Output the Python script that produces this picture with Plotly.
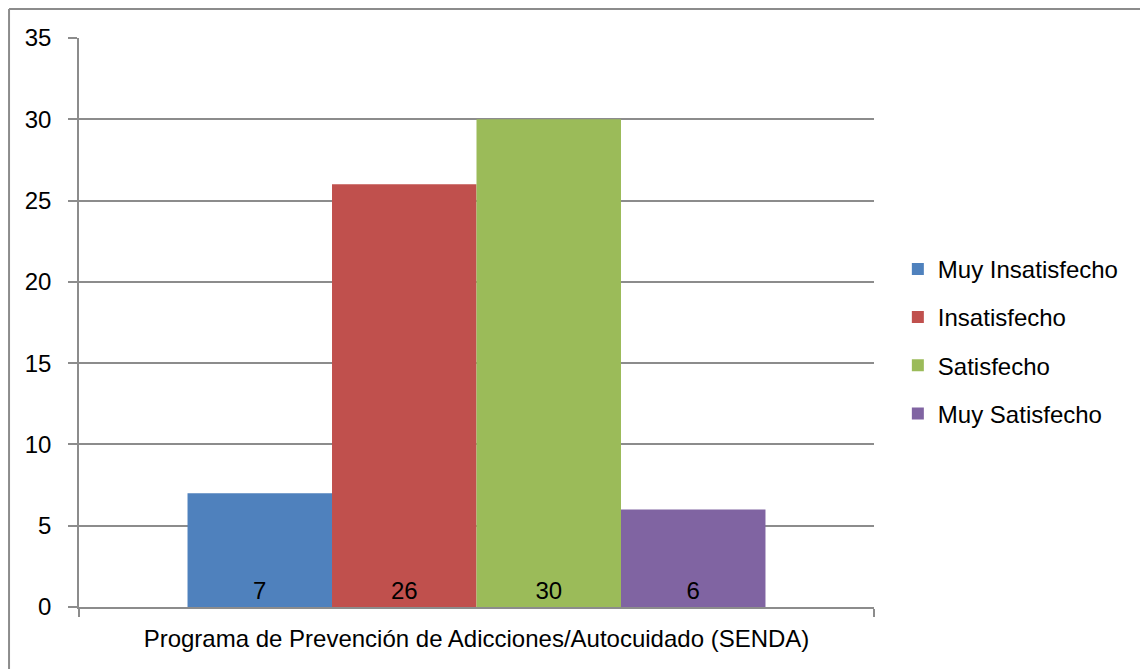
import plotly.graph_objects as go

category = ["Programa de Prevención de Adicciones/Autocuidado (SENDA)"]
series_names = ["Muy Insatisfecho", "Insatisfecho", "Satisfecho", "Muy Satisfecho"]
series_values = [7, 26, 30, 6]
series_colors = ["#4F81BD", "#C0504D", "#9BBB59", "#8064A2"]

FONT = "Liberation Sans"
GRID = "#8C8C8C"
FS = 24

fig = go.Figure()
for i, (name, val, col) in enumerate(zip(series_names, series_values, series_colors)):
    fig.add_trace(go.Bar(
        x=category, y=[val], name=name,
        marker=dict(color=col, line=dict(width=0)),
        text=[str(val)], textposition="inside", insidetextanchor="start",
        textfont=dict(family=FONT, size=FS, color="black"),
        legendgroup=name,
    ))

fig.update_layout(
    width=1148, height=669,
    margin=dict(l=71, r=282, t=30, b=70),
    paper_bgcolor="white", plot_bgcolor="white",
    barmode="group", bargap=0.273, bargroupgap=0,
    font=dict(family=FONT, size=FS, color="black"),
    showlegend=True,
    legend=dict(x=1.03, y=0.633, xanchor="left", yanchor="top",
                font=dict(family=FONT, size=FS), tracegroupgap=14,
                traceorder="grouped", bgcolor="rgba(0,0,0,0)"),
    uniformtext=dict(mode=False),
)
fig.update_xaxes(
    showline=True, linecolor=GRID, linewidth=1.5,
    ticks="outside", tickson="boundaries", ticklen=8, tickcolor=GRID, tickwidth=1.5,
    showgrid=False, ticklabelstandoff=9,
    tickfont=dict(family=FONT, size=FS),
)
fig.update_yaxes(
    range=[0, 35], dtick=5, showline=True, linecolor=GRID, linewidth=1.5,
    showgrid=True, gridcolor=GRID, gridwidth=1.5,
    ticks="outside", ticklen=9, tickcolor=GRID, tickwidth=1.5,
    ticklabelstandoff=12, zeroline=False,
    tickfont=dict(family=FONT, size=FS),
)
# outer chart border (partially cropped in the reference)
fig.add_shape(type="line", xref="paper", yref="paper", x0=-0.088, x1=1.4, y0=1.0510, y1=1.0510,
              line=dict(color="#8C8C8C", width=2))
fig.add_shape(type="line", xref="paper", yref="paper", x0=-0.088, x1=-0.088, y0=1.0510, y1=-0.2,
              line=dict(color="#8C8C8C", width=2))

fig.write_html("out.html")
